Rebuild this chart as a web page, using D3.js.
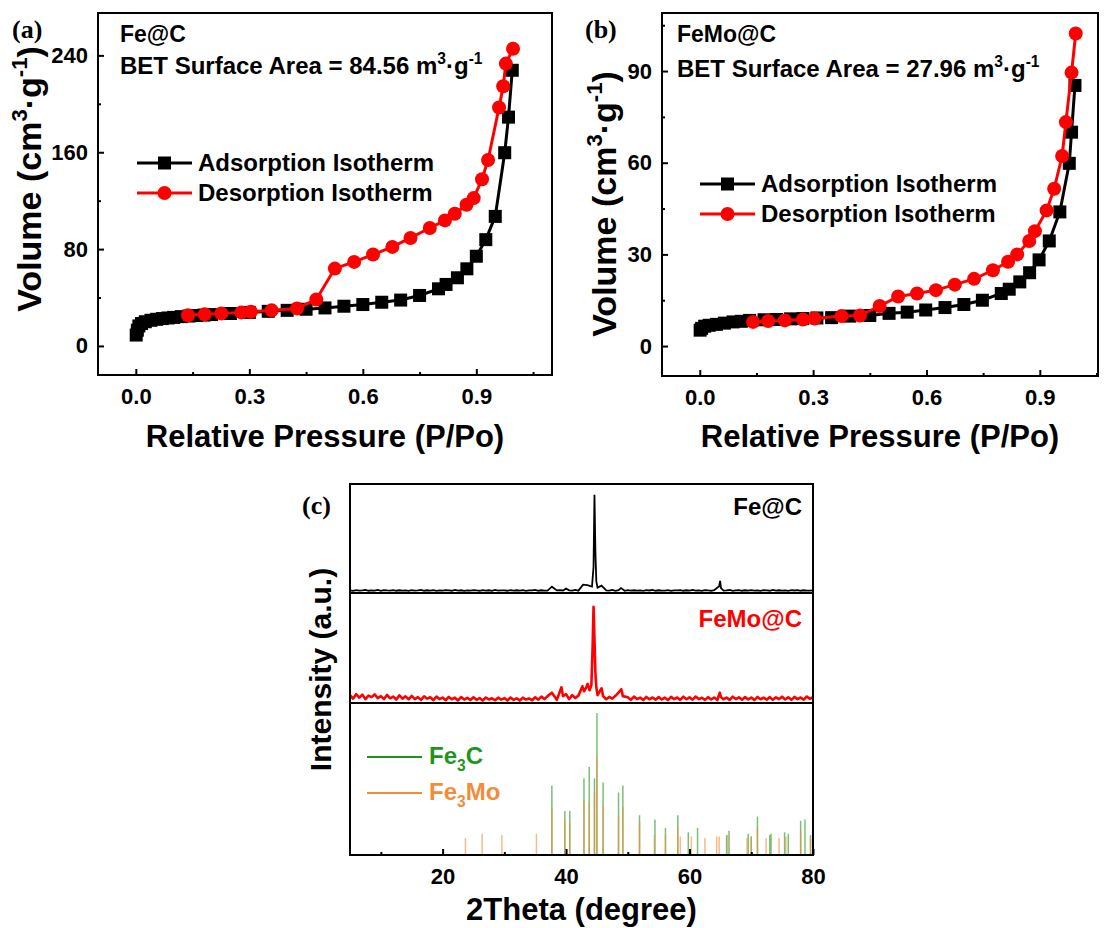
<!DOCTYPE html>
<html><head><meta charset="utf-8">
<script src="https://cdn.jsdelivr.net/npm/d3@7"></script>
<style>
body{margin:0;background:#fff}
text{font-family:"Liberation Sans",Arial,sans-serif;font-weight:bold}
</style>
</head><body>
<svg id="c" width="1105" height="928"></svg>
<script>
// ---------------- DATA ----------------
// Panel (a) Fe@C isotherms
const adsA_P = [0.001,0.004,0.008,0.015,0.025,0.04,0.055,0.07,0.085,0.1,0.12,0.14,0.16,0.18,0.2,0.25,0.3,0.35,0.4,0.45,0.5,0.55,0.6,0.65,0.7,0.75,0.8,0.82,0.85,0.875,0.9,0.925,0.95,0.975,0.985,0.995];
const adsA_V = [9,13,16.5,18.5,20,21.2,22,22.6,23.1,23.6,24.2,24.7,25.1,25.5,25.9,26.8,27.7,28.6,29.4,30.3,31.4,32.8,34.2,36.1,37.9,41.7,47.2,50.8,56.3,63.7,74.1,87.8,107,159.6,189,227.7];
const desA_P = [0.997,0.978,0.971,0.96,0.931,0.915,0.893,0.874,0.843,0.817,0.777,0.726,0.678,0.627,0.577,0.526,0.477,0.426,0.359,0.304,0.279,0.226,0.182,0.138];
const desA_V = [245.5,233.2,214.5,197,153.6,137.7,122.1,116.6,109.2,103.7,97.4,89.2,81.8,75.5,69.4,63.9,38.4,31,29.4,28.3,27.7,26.9,26.1,25.3];
// Panel (b) FeMo@C isotherms
const adsB_P = [0.001,0.005,0.013,0.025,0.044,0.065,0.088,0.11,0.132,0.17,0.203,0.24,0.273,0.31,0.349,0.397,0.45,0.501,0.549,0.598,0.649,0.699,0.748,0.798,0.819,0.847,0.873,0.898,0.925,0.953,0.978,0.984,0.993];
const adsB_V = [5.2,5.8,6.5,6.8,7.1,7.5,7.9,8.1,8.4,8.6,8.7,8.9,9.0,9.2,9.3,9.8,10,10.7,11.1,11.8,12.6,13.6,15.0,17.2,18.6,21.0,24.0,28.2,34.4,43.9,59.8,70,85.3];
const desB_P = [0.995,0.984,0.969,0.959,0.938,0.918,0.887,0.872,0.840,0.816,0.776,0.726,0.675,0.625,0.575,0.525,0.476,0.424,0.375,0.304,0.273,0.225,0.181,0.141];
const desB_V = [102.3,89.5,73.3,62.2,51.5,44.4,37.6,34.4,30.0,27.6,24.8,22,20.1,18.3,17.2,16.2,13.1,10,9.8,9.0,8.7,8.4,8.2,7.9];

// Ticks
const isoXTicks = [0, 0.3, 0.6, 0.9];
const isoXMinor = [0.15, 0.45, 0.75, 1.05];
const aYTicks = [0, 80, 160, 240];
const aYMinor = [40, 120, 200];
const bYTicks = [0, 30, 60, 90];
const bYMinor = [15, 45, 75, 105];
const xrdXTicks = [20, 40, 60, 80];
const xrdXMinor = [10, 30, 50, 70];

// Panel (c) XRD – baseline samples (2θ = 5.0, 5.5, ... 80.0)
const xrdGrid = [5.0,5.5,6.0,6.5,7.0,7.5,8.0,8.5,9.0,9.5,10.0,10.5,11.0,11.5,12.0,12.5,13.0,13.5,14.0,14.5,15.0,15.5,16.0,16.5,17.0,17.5,18.0,18.5,19.0,19.5,20.0,20.5,21.0,21.5,22.0,22.5,23.0,23.5,24.0,24.5,25.0,25.5,26.0,26.5,27.0,27.5,28.0,28.5,29.0,29.5,30.0,30.5,31.0,31.5,32.0,32.5,33.0,33.5,34.0,34.5,35.0,35.5,36.0,36.5,37.0,37.5,38.0,38.5,39.0,39.5,40.0,40.5,41.0,41.5,42.0,42.5,43.0,43.5,44.0,44.5,45.0,45.5,46.0,46.5,47.0,47.5,48.0,48.5,49.0,49.5,50.0,50.5,51.0,51.5,52.0,52.5,53.0,53.5,54.0,54.5,55.0,55.5,56.0,56.5,57.0,57.5,58.0,58.5,59.0,59.5,60.0,60.5,61.0,61.5,62.0,62.5,63.0,63.5,64.0,64.5,65.0,65.5,66.0,66.5,67.0,67.5,68.0,68.5,69.0,69.5,70.0,70.5,71.0,71.5,72.0,72.5,73.0,73.5,74.0,74.5,75.0,75.5,76.0,76.5,77.0,77.5,78.0,78.5,79.0,79.5,80.0];
const feBaseline = [18,12,20,14,16,22,13,17,15,21,12,19,16,14,20,13,18,15,17,12,
 19,14,16,21,13,18,15,20,12,17,14,19,16,13,21,15,18,12,17,14,
 20,16,13,19,15,18,12,21,14,17,16,13,20,15,18,14,19,12,17,16,
 21,13,18,15,14,20,12,17,19,16,13,18,15,21,14,17,12,19,16,20,
 13,18,14,17,15,21,12,19,16,13,20,15,18,14,17,12,19,16,21,13,
 18,15,14,20,12,17,16,19,13,18,15,21,14,17,12,20,16,13,19,15,
 18,14,17,21,12,16,19,13,18,15,20,14,17,12,19,16,13,21,15,18,
 14,17,12,20,16,19,13,18,15,14,17];
const feMoBaseline = [70,35,80,45,75,30,65,50,78,40, 60,30,72,38,55,25,68,35,58,28,
 62,30,50,22,58,34,48,20,55,30, 45,18,52,28,44,16,50,25,42,20,
 48,22,40,15,46,26,38,18,44,24, 40,16,46,22,38,15,44,25,36,18,
 48,24,55,30,60,28,52,22,58,35, 62,30,55,40,65,35,60,42,70,45,
 55,30,60,28,52,35,58,25,50,32, 48,22,55,30,45,20,52,28,46,24,
 50,26,44,20,52,30,46,22,55,28, 48,24,56,30,44,22,50,26,46,20,
 52,28,45,22,54,30,48,24,50,26, 46,20,52,28,44,24,50,22,48,30,
 54,26,48,22,52,30,46,24,56,32, 50];
// Peaks [2θ, intensity]
const fePeaks = [[37.7,55],[40.0,35],[42.75,75],[43.45,70],[44.2,55],[44.45,260],[44.6,1000],[44.75,420],[44.9,110],[45.1,45],[45.75,65],[48.9,40],[64.8,60],[64.95,115],[65.1,40]];
const feMoPeaks = [[37.7,95],[39.25,150],[39.5,60],[40.0,80],[41.0,70],[42.65,160],[42.9,110],[43.2,140],[43.5,185],[43.8,120],[44.1,170],[44.3,560],[44.45,970],[44.6,640],[44.75,300],[44.9,150],[45.1,70],[45.75,140],[46.0,60],[48.2,75],[48.95,130],[49.2,60],[64.9,95],[65.1,50]];
// Reference patterns (relative intensity)
const fe3cPos = [37.7,39.8,40.6,42.9,43.75,44.6,45.0,46.0,48.5,49.2,51.9,54.4,56.1,58.1,59.8,61.3,66.0,66.4,69.5,70.0,71.0,73.0,73.2,75.4,76.0,78.0,78.7,79.6];
const fe3cInt = [49,31,31,54,62,54,100,51,44,49,28,25,19,28,16,19,14,17,15,13,27,14,15,16,15,24,25,14];
const fe3moPos = [23.7,26.4,29.6,35.2,37.7,39.8,40.6,42.9,43.75,44.6,45.0,46.0,48.5,49.2,51.9,54.3,56.1,58.1,58.5,60.3,62.5,64.4,64.8,66.2,69.3,70.0,71.0,72.4,74.5,75.6,78.0,79.6];
const fe3moInt = [12,15,14,15,33,25,23,39,37,44,70,35,27,34,23,14,14,20,13,13,12,13,13,14,12,13,20,12,12,13,18,12];

// ---------------- DRAWING ----------------
const svg = d3.select('#c');
const BLACK = '#000', RED = '#f00', GREEN = '#1e961e', ORANGE = '#f28c38';

function rich(sel, parts, fs){
  let shift = 0;
  parts.forEach(p => {
    const target = p.sup ? -0.4*fs : (p.sub ? 0.28*fs : 0);
    const ts = sel.append('tspan').text(p.t).attr('dy', target - shift);
    if (p.sup || p.sub) ts.attr('font-size', fs*0.65);
    shift = target;
  });
}

function styleAxis(g){
  g.select('.domain').remove();
  g.selectAll('.tick line').attr('stroke','#000').attr('stroke-width',2);
  g.selectAll('.tick text').attr('fill','#000');
}

function isoPanel(cfg){
  const x = d3.scaleLinear().domain(cfg.xDom).range([cfg.left, cfg.right]);
  const y = d3.scaleLinear().domain(cfg.yDom).range([cfg.bottom, cfg.top]);
  const g = svg.append('g');

  const xa = g.append('g').attr('transform',`translate(0,${cfg.bottom})`)
    .call(d3.axisBottom(x).tickValues(isoXTicks).tickSize(-6).tickPadding(13).tickFormat(d3.format('.1f')));
  xa.selectAll('text').attr('font-size',22);
  styleAxis(xa);
  const xm = g.append('g').attr('transform',`translate(0,${cfg.bottom})`)
    .call(d3.axisBottom(x).tickValues(isoXMinor).tickSize(-3).tickFormat(''));
  styleAxis(xm);
  const ya = g.append('g').attr('transform',`translate(${cfg.left},0)`)
    .call(d3.axisLeft(y).tickValues(cfg.yTicks).tickSize(-6).tickPadding(10));
  ya.selectAll('text').attr('font-size',22);
  styleAxis(ya);
  const ym = g.append('g').attr('transform',`translate(${cfg.left},0)`)
    .call(d3.axisLeft(y).tickValues(cfg.yMinor).tickSize(-3).tickFormat(''));
  styleAxis(ym);

  g.append('rect').attr('x',cfg.left).attr('y',cfg.top)
    .attr('width',cfg.right-cfg.left).attr('height',cfg.bottom-cfg.top)
    .attr('fill','none').attr('stroke','#000').attr('stroke-width',2);

  const line = d3.line().x(d => x(d[0])).y(d => y(d[1]));
  const ads = cfg.adsP.map((p,i) => [p, cfg.adsV[i]]);
  const des = cfg.desP.map((p,i) => [p, cfg.desV[i]]);
  g.append('path').datum(ads).attr('d',line).attr('fill','none').attr('stroke',BLACK).attr('stroke-width',3);
  g.selectAll('.sq').data(ads).join('rect')
    .attr('x',d=>x(d[0])-6.5).attr('y',d=>y(d[1])-6.5).attr('width',13).attr('height',13).attr('fill',BLACK);
  g.append('path').datum(des).attr('d',line).attr('fill','none').attr('stroke',RED).attr('stroke-width',3);
  g.selectAll('.ci').data(des).join('circle')
    .attr('cx',d=>x(d[0])).attr('cy',d=>y(d[1])).attr('r',7).attr('fill',RED);

  // titles
  g.append('text').attr('x',cfg.left+cfg.txtOff).attr('y',cfg.top+29).attr('font-size',23).text(cfg.name);
  const bet = g.append('text').attr('x',cfg.left+cfg.txtOff).attr('y',cfg.betY).attr('font-size',24);
  rich(bet,[{t:'BET Surface Area = '+cfg.bet+' m'},{t:'3',sup:true},{t:'·g'},{t:'-1',sup:true}],24);

  // legend
  const lx0 = cfg.legX, lx1 = cfg.legX+55;
  [[BLACK,'Adsorption Isotherm',cfg.legY,'sq'],[RED,'Desorption Isotherm',cfg.legY+30,'ci']].forEach(r=>{
    g.append('line').attr('x1',lx0).attr('x2',lx1).attr('y1',r[2]).attr('y2',r[2]).attr('stroke',r[0]).attr('stroke-width',3);
    if (r[3]==='sq') g.append('rect').attr('x',(lx0+lx1)/2-6.5).attr('y',r[2]-6.5).attr('width',13).attr('height',13).attr('fill',r[0]);
    else g.append('circle').attr('cx',(lx0+lx1)/2).attr('cy',r[2]).attr('r',7).attr('fill',r[0]);
    g.append('text').attr('x',lx1+6).attr('y',r[2]+8).attr('font-size',24).text(r[1]);
  });

  // axis titles
  g.append('text').attr('x',(cfg.left+cfg.right)/2).attr('y',447).attr('text-anchor','middle')
    .attr('font-size',31).text('Relative Pressure (P/Po)');
  const yt = g.append('text').attr('transform',`translate(${cfg.ytX},${cfg.ytY}) rotate(-90)`)
    .attr('text-anchor','middle').attr('font-size',34);
  rich(yt,[{t:'Volume (cm'},{t:'3',sup:true},{t:'·g'},{t:'-1',sup:true},{t:')'}],34);

  svg.append('text').attr('x',cfg.letterX).attr('y',38).attr('font-size',26)
    .style('font-family','"Liberation Serif","Times New Roman",serif').text(cfg.letter);
}

isoPanel({left:98,right:552,top:13,bottom:375,xDom:[-0.1,1.1],yDom:[-24,275],
  yTicks:aYTicks,yMinor:aYMinor,adsP:adsA_P,adsV:adsA_V,desP:desA_P,desV:desA_V,
  name:'Fe@C',bet:'84.56',betY:74,txtOff:22,legX:137,legY:163,ytX:41,ytY:179,letter:'(a)',letterX:12});
isoPanel({left:662,right:1098,top:13,bottom:376,xDom:[-0.1,1.054],yDom:[-9.8,109],
  yTicks:bYTicks,yMinor:bYMinor,adsP:adsB_P,adsV:adsB_V,desP:desB_P,desV:desB_V,
  name:'FeMo@C',bet:'27.96',betY:77,txtOff:15,legX:700,legY:184,ytX:616,ytY:204,letter:'(b)',letterX:585});

// ---------- Panel (c) ----------
const cL = 350, cR = 813, cT = 484, cM1 = 593, cM2 = 703, cB = 855;
const xX = d3.scaleLinear().domain([5,80]).range([cL,cR]);
const yFe = d3.scaleLinear().domain([-10,1110]).range([cM1,cT]);
const yFeMo = d3.scaleLinear().domain([-10,1110]).range([cM2,cM1]);
const yRef = d3.scaleLinear().domain([0,107]).range([cB,cM2]);

function merge(base, peaks){
  const pts = xrdGrid.map((t,i)=>[t, base[i]])
    .filter(p => !peaks.some(q => Math.abs(q[0]-p[0]) < 0.3));
  return pts.concat(peaks).sort((a,b)=>a[0]-b[0]);
}
const gC = svg.append('g');
gC.append('path').datum(merge(feMoBaseline, feMoPeaks))
  .attr('d', d3.line().x(d=>xX(d[0])).y(d=>yFeMo(d[1])))
  .attr('fill','none').attr('stroke',RED).attr('stroke-width',2.6).attr('stroke-linejoin','round');
gC.append('path').datum(merge(feBaseline, fePeaks))
  .attr('d', d3.line().x(d=>xX(d[0])).y(d=>yFe(d[1])))
  .attr('fill','none').attr('stroke',BLACK).attr('stroke-width',1.8);

// reference sticks
gC.selectAll('.fe3c').data(fe3cPos.map((p,i)=>[p,fe3cInt[i]])).join('line')
  .attr('x1',d=>xX(d[0])).attr('x2',d=>xX(d[0])).attr('y1',yRef(0)).attr('y2',d=>yRef(d[1]))
  .attr('stroke',GREEN).attr('stroke-width',1.5).attr('stroke-opacity',0.6);
gC.selectAll('.fe3mo').data(fe3moPos.map((p,i)=>[p,fe3moInt[i]])).join('line')
  .attr('x1',d=>xX(d[0])).attr('x2',d=>xX(d[0])).attr('y1',yRef(0)).attr('y2',d=>yRef(d[1]))
  .attr('stroke',ORANGE).attr('stroke-width',1.5).attr('stroke-opacity',0.6);

// frames
gC.append('rect').attr('x',cL).attr('y',cT).attr('width',cR-cL).attr('height',cB-cT)
  .attr('fill','none').attr('stroke','#000').attr('stroke-width',2);
[cM1,cM2].forEach(yy=>gC.append('line').attr('x1',cL).attr('x2',cR).attr('y1',yy).attr('y2',yy)
  .attr('stroke','#000').attr('stroke-width',2));

const cxa = gC.append('g').attr('transform',`translate(0,${cB})`)
  .call(d3.axisBottom(xX).tickValues(xrdXTicks).tickSize(-6).tickPadding(13));
cxa.selectAll('text').attr('font-size',22);
styleAxis(cxa);
const cxm = gC.append('g').attr('transform',`translate(0,${cB})`)
  .call(d3.axisBottom(xX).tickValues(xrdXMinor).tickSize(-3).tickFormat(''));
styleAxis(cxm);

gC.append('text').attr('x',802).attr('y',515).attr('text-anchor','end').attr('font-size',24).attr('fill',BLACK).text('Fe@C');
gC.append('text').attr('x',802).attr('y',627).attr('text-anchor','end').attr('font-size',24).attr('fill',RED).text('FeMo@C');

[[GREEN,'Fe','C',757],[ORANGE,'Fe','Mo',793]].forEach(r=>{
  gC.append('line').attr('x1',367).attr('x2',422).attr('y1',r[3]).attr('y2',r[3]).attr('stroke',r[0]).attr('stroke-width',2);
  const t = gC.append('text').attr('x',429).attr('y',r[3]+7).attr('font-size',24).attr('fill',r[0]);
  rich(t,[{t:r[1]},{t:'3',sub:true},{t:r[2]}],24);
});

gC.append('text').attr('x',(cL+cR)/2).attr('y',920).attr('text-anchor','middle').attr('font-size',31).text('2Theta (degree)');
gC.append('text').attr('transform',`translate(331,${(cT+cB)/2}) rotate(-90)`).attr('text-anchor','middle')
  .attr('font-size',30).text('Intensity (a.u.)');
svg.append('text').attr('x',302).attr('y',514).attr('font-size',26)
  .style('font-family','"Liberation Serif","Times New Roman",serif').text('(c)');
</script>
</body></html>
